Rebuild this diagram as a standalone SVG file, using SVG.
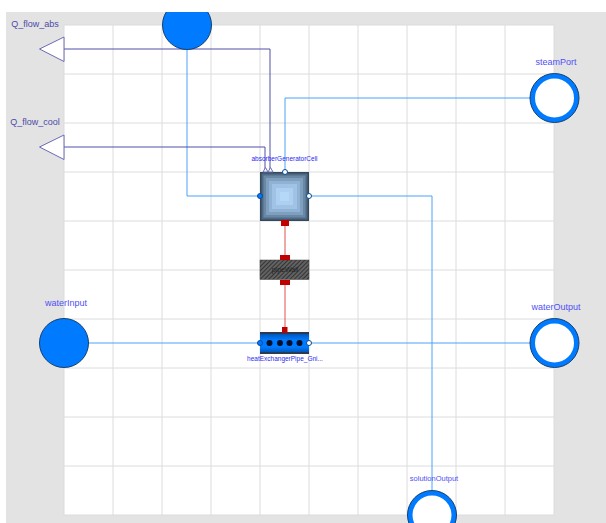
<svg xmlns="http://www.w3.org/2000/svg" width="606" height="523" viewBox="0 0 606 523">
<style>
text{font-family:"Liberation Sans",Arial,sans-serif}
.grid{stroke:#dcdcdc;stroke-width:1;fill:none}
.fl{fill:none;stroke:#4aa3f7;stroke-width:1}
.hf{fill:none;stroke:#5050a8;stroke-width:1}
.ht{fill:none;stroke:#e05050;stroke-width:1}
.lbl{font-size:9px;fill:#5050f5;text-anchor:middle}
.lbs{font-size:6.500px;fill:#2a2af0;text-anchor:middle}
.hl{font-size:9px;fill:#4a4aa8;text-anchor:middle}
.portfull{fill:#007bff;stroke:#17406e;stroke-width:1}
.portring{fill:#fff;stroke:#007bff;stroke-width:5}
.portedge{fill:none;stroke:#17406e;stroke-width:1}
.tri{fill:#fff;stroke:#6a6ab8;stroke-width:1}
.red{fill:#c00000}
.pin{fill:#fff;stroke:#0a4a90;stroke-width:1}
.pinf{fill:#007bff;stroke:#0a4a90;stroke-width:1}
</style>
<defs>
<linearGradient id="hx" x1="0" y1="0" x2="0" y2="1">
<stop offset="0" stop-color="#0050b0"/><stop offset="0.35" stop-color="#007bff"/><stop offset="0.7" stop-color="#007bff"/><stop offset="1" stop-color="#0050b0"/>
</linearGradient>
<pattern id="hatch" width="3" height="3" patternUnits="userSpaceOnUse" patternTransform="rotate(45)">
<rect width="3" height="3" fill="#626262"/><rect width="1" height="3" fill="#343434"/>
</pattern>
<clipPath id="page"><rect x="6" y="12" width="600" height="511"/></clipPath>
</defs>
<rect width="606" height="523" fill="#fff"/>
<rect x="6" y="12" width="600" height="511" fill="#e3e3e3"/>
<rect x="64" y="25" width="490" height="490" fill="#fff"/>
<g id="grid" class="grid">
<path d="M113 25V515M162 25V515M211 25V515M260 25V515M309 25V515M358 25V515M407 25V515M456 25V515M505 25V515"/>
<path d="M64 74H554M64 123H554M64 172H554M64 221H554M64 270H554M64 319H554M64 368H554M64 417H554M64 466H554"/>
<rect x="64" y="25" width="490" height="490"/>
</g>
<g id="connectors">
<path class="fl" d="M187 49V196H260"/>
<path class="fl" d="M530 98H285V172"/>
<path class="fl" d="M309 196H432V491"/>
<path class="fl" d="M89 343H530"/>
<path class="hf" d="M64 49H270V170"/>
<path class="hf" d="M64 147H265V170"/>
<path class="ht" d="M285 221V260M285 282V333"/>
</g>
<g id="Q_flow_abs">
<polygon class="tri" points="39.500,49 64,37 64,61.500"/>
<text class="hl" x="35" y="27">Q_flow_abs</text>
</g>
<g id="Q_flow_cool">
<polygon class="tri" points="39.500,147 64,135 64,159.500"/>
<text class="hl" x="35" y="125">Q_flow_cool</text>
</g>
<g id="topPort" clip-path="url(#page)">
<circle class="portfull" cx="187" cy="25" r="24.500"/>
</g>
<g id="steamPort">
<circle class="portring" cx="554.500" cy="98" r="22"/>
<circle class="portedge" cx="554.500" cy="98" r="24.500"/>
<text class="lbl" x="556" y="65">steamPort</text>
</g>
<g id="waterInput">
<circle class="portfull" cx="64" cy="343" r="24.500"/>
<text class="lbl" x="66" y="306">waterInput</text>
</g>
<g id="waterOutput">
<circle class="portring" cx="554.500" cy="343" r="22"/>
<circle class="portedge" cx="554.500" cy="343" r="24.500"/>
<text class="lbl" x="556" y="310">waterOutput</text>
</g>
<g id="solutionOutput" clip-path="url(#page)">
<circle class="portring" cx="432" cy="515" r="22"/>
<circle class="portedge" cx="432" cy="515" r="24.500"/>
<text class="lbl" x="434" y="481" style="font-size:7.500px">solutionOutput</text>
</g>
<g id="absorberGeneratorCell">
<rect x="260" y="172" width="49" height="49" fill="#34495c"/>
<rect x="261.500" y="173.500" width="46" height="46" fill="#4f6a84"/>
<rect x="263.500" y="175.500" width="42" height="42" fill="#6a88a6"/>
<rect x="266" y="178" width="37" height="37" fill="#7f9fbf"/>
<rect x="269" y="181" width="31" height="31" fill="#90b2d4"/>
<rect x="272" y="184" width="25" height="25" fill="#a0c2e4"/>
<rect x="276" y="188" width="17" height="17" fill="#aed0f0"/>
<rect x="280" y="192" width="9" height="9" fill="#b6d8f8"/>
<polygon class="tri" points="263,172 265.500,167.500 268,172"/>
<polygon class="tri" points="268,172 270.500,167.500 273,172"/>
<circle class="pin" cx="285" cy="172" r="2.500"/>
<circle class="pinf" cx="260" cy="196" r="2.500"/>
<circle class="pin" cx="309" cy="196" r="2.500"/>
<rect class="red" x="281" y="220" width="8" height="6"/>
<text class="lbs" x="284.500" y="161">absorberGeneratorCell</text>
</g>
<g id="pipeWall">
<rect x="260" y="260" width="49" height="19.500" fill="url(#hatch)" stroke="#3c3c3c" stroke-width="0.500"/>
<rect class="red" x="280" y="255" width="10" height="5"/>
<rect class="red" x="280" y="280" width="10" height="5"/>
<text x="285" y="272" style="font-size:7px;fill:#222;text-anchor:middle">pipeWall</text>
</g>
<g id="heatExchangerPipe">
<rect x="260" y="333" width="49" height="20" fill="url(#hx)"/>
<rect x="260" y="332" width="49" height="2" fill="#2a3a50"/>
<rect x="260" y="352" width="49" height="2" fill="#2a3a50"/>
<g fill="#04102a"><circle cx="269.500" cy="343" r="3"/><circle cx="280" cy="343" r="3"/><circle cx="289.500" cy="343" r="3"/><circle cx="299.500" cy="343" r="3"/></g>
<circle class="pinf" cx="260" cy="343" r="2.500"/>
<circle class="pin" cx="309" cy="343" r="2.500"/>
<rect class="red" x="282" y="327" width="5.500" height="6"/>
<text class="lbs" x="285" y="361">heatExchangerPipe_Gni...</text>
</g>
</svg>
